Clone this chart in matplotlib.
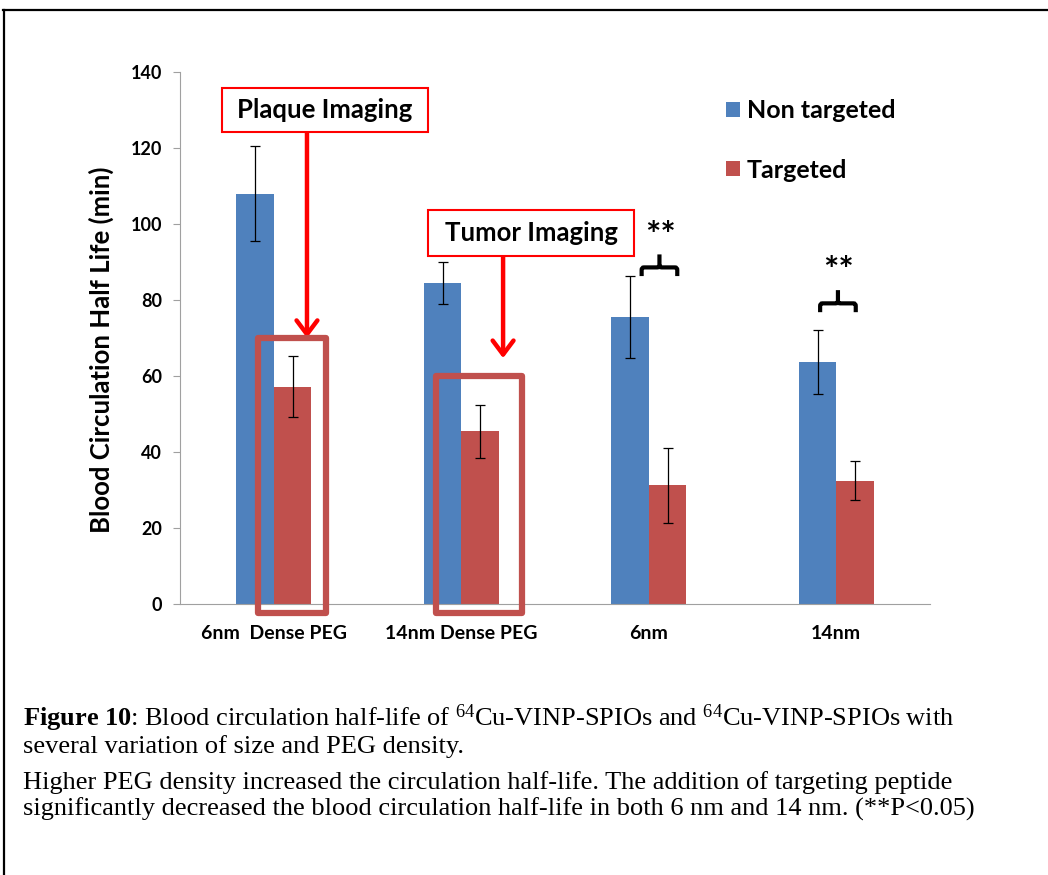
import matplotlib.pyplot as plt
import numpy as np
from matplotlib.patches import Rectangle
from matplotlib.path import Path
from matplotlib.patches import PathPatch
from matplotlib.lines import Line2D

plt.rcParams['font.family'] = ['Lato', 'DejaVu Sans']
plt.rcParams['mathtext.fontset'] = 'custom'
plt.rcParams['mathtext.rm'] = 'Liberation Serif'
plt.rcParams['mathtext.bf'] = 'Liberation Serif:bold'
plt.rcParams['mathtext.it'] = 'Liberation Serif:italic'

categories = ['6nm  Dense PEG', '14nm Dense PEG', '6nm', '14nm']
non_targeted = [108, 84.5, 75.5, 63.6]
non_targeted_err = [12.6, 5.5, 10.8, 8.4]
targeted = [57.2, 45.5, 31.2, 32.5]
targeted_err = [8.0, 7.0, 9.8, 5.2]
yticks = [0, 20, 40, 60, 80, 100, 120, 140]

blue = '#4F81BD'
red = '#C0504D'

fig = plt.figure(figsize=(10.48, 8.75), dpi=100)
ax = fig.add_axes([0.1718, 0.3097, 0.7156, 0.608])

x = np.arange(len(categories))
w = 0.2
err_kw = dict(ecolor='black', elinewidth=0.9, capsize=3.5, capthick=0.9)
ax.bar(x - w / 2, non_targeted, w, yerr=non_targeted_err, color=blue,
       label='Non targeted', error_kw=err_kw, zorder=2)
ax.bar(x + w / 2, targeted, w, yerr=targeted_err, color=red,
       label='Targeted', error_kw=err_kw, zorder=2)

ax.set_xlim(-0.5, 3.5)
ax.set_ylim(0, 140)
ax.set_yticks(yticks)
ax.set_xticks(x)
ax.set_xticklabels(categories, fontsize=14, fontweight='bold')
ax.tick_params(axis='x', length=0, pad=15)
ax.tick_params(axis='y', length=5, color='#A0A0A0', labelsize=13, pad=8)
for lab in ax.get_yticklabels():
    lab.set_fontweight('bold')
for s in ['top', 'right']:
    ax.spines[s].set_visible(False)
ax.spines['left'].set_color('#A0A0A0')
ax.spines['bottom'].set_color('#A0A0A0')
ax.set_ylabel('Blood Circulation Half Life (min)', fontsize=18.5, fontweight='bold')
ax.yaxis.set_label_coords(-0.088, 0.477)

# callout labels, arrows and highlight boxes
callouts = [('Plaque Imaging', -0.276, 0.823, 124.2, 135.8, 0.177, 70.0, -0.084, 0.279, 70.0),
            ('Tumor Imaging', 0.823, 1.921, 91.6, 103.7, 1.223, 64.7, 0.865, 1.324, 60.0)]
for text, lx0, lx1, ly0, ly1, arr_x, arr_y, bx0, bx1, btop in callouts:
    ax.add_patch(Rectangle((lx0, ly0), lx1 - lx0, ly1 - ly0, fc='white',
                           ec='#FF0000', lw=1.5, clip_on=False, zorder=5))
    ax.text((lx0 + lx1) / 2, (ly0 + ly1) / 2, text, fontsize=18.5, fontweight='bold',
            ha='center', va='center', zorder=6)
    ax.annotate('', xy=(arr_x, arr_y), xytext=(arr_x, ly0),
                arrowprops=dict(arrowstyle='->,head_length=1.0,head_width=0.75',
                                color='#FF0000', lw=3.2, shrinkA=0, shrinkB=0),
                zorder=4)
    ax.add_patch(Rectangle((bx0, -2.4), bx1 - bx0, btop + 2.4, fill=False,
                           ec=red, lw=4.5, joinstyle='round', clip_on=False,
                           zorder=4))

# significance braces
braces = [(2.057, 86.3, 92.0), (3.009, 76.8, 82.6)]
for xc, yb, yt in braces:
    hw = 0.095
    ym = yb + (yt - yb) * 0.4
    rx = 0.012
    dy = (yt - yb) * 0.12
    verts = [(xc - hw, yb), (xc - hw, ym - dy), (xc - hw, ym), (xc - hw + rx, ym),
             (xc - rx, ym), (xc, ym), (xc, ym + dy), (xc, yt),
             (xc, ym + dy), (xc, ym), (xc + rx, ym),
             (xc + hw - rx, ym), (xc + hw, ym), (xc + hw, ym - dy), (xc + hw, yb)]
    codes = [Path.MOVETO, Path.LINETO, Path.CURVE3, Path.CURVE3,
             Path.LINETO, Path.CURVE3, Path.CURVE3, Path.LINETO,
             Path.MOVETO, Path.CURVE3, Path.CURVE3,
             Path.LINETO, Path.CURVE3, Path.CURVE3, Path.LINETO]
    ax.add_patch(PathPatch(Path(verts, codes), fill=False, lw=3, ec='black',
                           capstyle='butt', clip_on=False, zorder=5))
    ax.text(xc + 0.005, yt + 0.5, '**', fontsize=26, fontweight='bold',
            ha='center', va='bottom')

leg = ax.legend(loc='upper left', bbox_to_anchor=(0.711, 0.972), frameon=False,
                fontsize=18, handlelength=0.55, handleheight=0.55,
                labelspacing=1.45, handletextpad=0.3, borderpad=0)
for t in leg.get_texts():
    t.set_fontweight('bold')

# outer frame
fig.add_artist(Line2D([0.0035, 0.0035], [0.0, 0.9886], color='black', lw=1.6))
fig.add_artist(Line2D([0.0028, 1.0], [0.9886, 0.9886], color='black', lw=1.6))

# caption
cap_kw = dict(fontsize=19, family='Liberation Serif', ha='left', va='baseline')
fig.text(0.022, 1 - 726 / 875,
         r'$\mathbf{Figure\ 10}$: Blood circulation half-life of $^{64}$Cu-VINP-SPIOs'
         r' and $^{64}$Cu-VINP-SPIOs with', **cap_kw)
fig.text(0.022, 1 - 753 / 875, 'several variation of size and PEG density.', **cap_kw)
fig.text(0.022, 1 - 789 / 875,
         'Higher PEG density increased the circulation half-life. '
         'The addition of targeting peptide', **cap_kw)
fig.text(0.022, 1 - 816 / 875,
         'significantly decreased the blood circulation half-life in both 6 nm and 14 nm. '
         '(**P<0.05)', **cap_kw)

fig.savefig('out.png', dpi=100)
